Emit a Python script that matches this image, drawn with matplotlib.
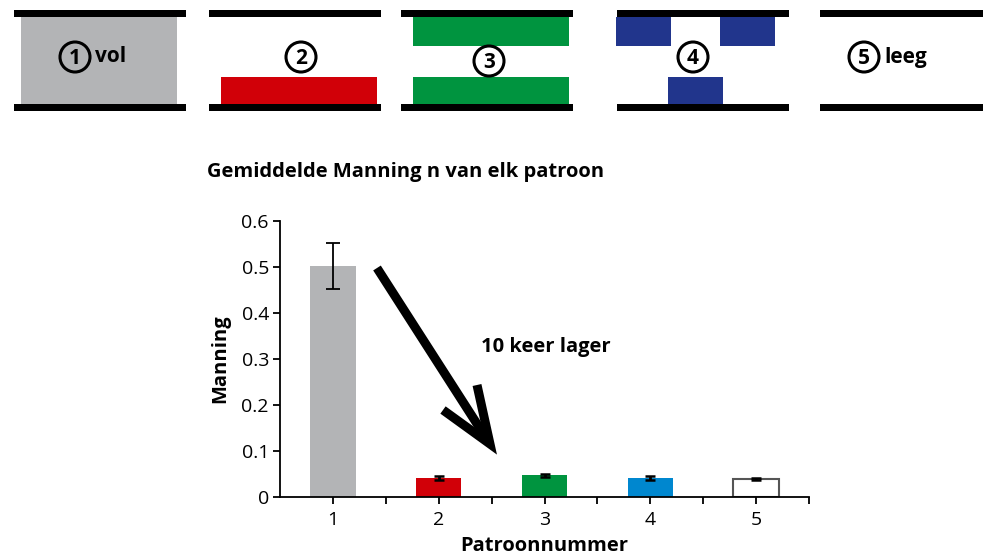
import matplotlib.pyplot as plt
from matplotlib.patches import Rectangle, Circle

plt.rcParams['font.family'] = ['Open Sans', 'DejaVu Sans']

# Data
patterns = [1, 2, 3, 4, 5]
manning = [0.502, 0.041, 0.047, 0.041, 0.039]
errors = [0.050, 0.004, 0.004, 0.004, 0.003]
bar_colors = ['#b3b4b6', '#d10008', '#00943f', '#0087cf', 'white']
edge_colors = ['none', 'none', 'none', 'none', '#555555']
panel_labels = ['vol', '', '', '', 'leeg']

fig = plt.figure(figsize=(9.83, 5.55), dpi=100)

# Bar chart
ax = fig.add_axes([280 / 983, 58 / 555, 529 / 983, 276 / 555])
ax.set_facecolor('none')
ax.bar(patterns, manning, width=0.43, color=bar_colors,
       edgecolor=edge_colors, linewidth=1.5, zorder=2)
ax.errorbar(patterns[:1], manning[:1], yerr=errors[:1], fmt='none',
            ecolor='black', elinewidth=1.3, capsize=5, capthick=1.3, zorder=3)
ax.errorbar(patterns[1:], manning[1:], yerr=errors[1:], fmt='none',
            ecolor='black', elinewidth=2, capsize=3.5, capthick=1.8, zorder=3)

ax.set_xlim(0.5, 5.5)
ax.set_ylim(0, 0.6)
ax.set_yticks([0, 0.1, 0.2, 0.3, 0.4, 0.5, 0.6])
ax.set_yticklabels(['0', '0.1', '0.2', '0.3', '0.4', '0.5', '0.6'])
ax.set_xticks(patterns)
ax.set_xticks([1.5, 2.5, 3.5, 4.5, 5.5], minor=True)
ax.tick_params(axis='both', labelsize=14, width=1.3, length=5, direction='out')
ax.tick_params(axis='x', which='minor', width=1.3, length=5)
ax.tick_params(axis='x', pad=5)
ax.tick_params(axis='y', pad=3)
for s in ['top', 'right']:
    ax.spines[s].set_visible(False)
for s in ['left', 'bottom']:
    ax.spines[s].set_linewidth(1.3)
ax.set_ylabel('Manning', fontsize=14.5, fontweight='bold', labelpad=8)
ax.set_xlabel('Patroonnummer', fontsize=14.5, fontweight='bold', labelpad=5)

# Overlay in pixel coordinates for the schematic drawings
ov = fig.add_axes([0, 0, 1, 1])
ov.set_xlim(0, 983)
ov.set_ylim(555, 0)
ov.axis('off')

panel_x = [14, 209, 401, 617, 820]
panel_w = 172
black = '#000000'
for px in panel_x:
    w = panel_w if px != 820 else 200
    ov.add_patch(Rectangle((px, 10), w, 7, color=black, lw=0))
    ov.add_patch(Rectangle((px, 104), w, 7, color=black, lw=0))

# pattern fills
ov.add_patch(Rectangle((21, 17), 156, 87, color='#b3b4b6', lw=0))
ov.add_patch(Rectangle((221, 77), 156, 27, color='#d10008', lw=0))
ov.add_patch(Rectangle((413, 17), 156, 29, color='#00943f', lw=0))
ov.add_patch(Rectangle((413, 77), 156, 27, color='#00943f', lw=0))
for bx, by in [(616, 17), (720, 17), (668, 77)]:
    ov.add_patch(Rectangle((bx, by), 55, 29 if by == 17 else 27, color='#21358c', lw=0))

# circled numbers
circ = [(75, 57), (301, 57), (489, 61), (693, 57), (864, 57)]
for i, (cx, cy) in enumerate(circ):
    ov.add_patch(Circle((cx, cy), 15, fill=False, ec='black', lw=2.2))
    ov.text(cx, cy + 1, str(patterns[i]), ha='center', va='center',
            fontsize=15, fontweight='bold')
    if panel_labels[i]:
        ov.text(cx + 20, cy, panel_labels[i], ha='left', va='center',
                fontsize=15, fontweight='bold')

# arrow "10 keer lager"
ov.plot([377, 488], [268, 441], color='black', lw=6.5, solid_capstyle='butt')
ov.plot([443, 490, 477], [410, 444, 385], color='black', lw=6.5,
        solid_joinstyle='miter', solid_capstyle='butt')
ov.text(481, 347, '10 keer lager', ha='left', va='center',
        fontsize=14.5, fontweight='bold')

ov.text(207, 172, 'Gemiddelde Manning n van elk patroon', ha='left',
        va='center', fontsize=14.5, fontweight='bold')

fig.savefig('out.png', dpi=100)
